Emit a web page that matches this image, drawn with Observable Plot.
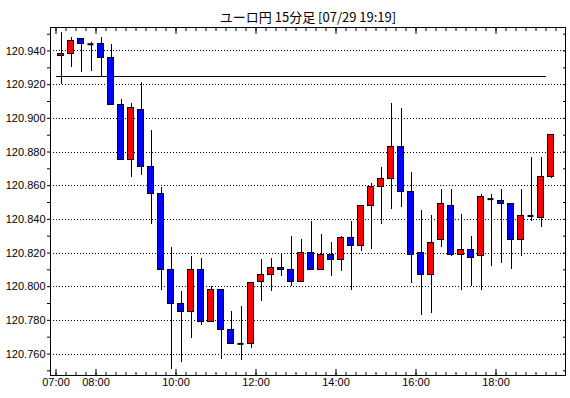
<!DOCTYPE html>
<html><head><meta charset="utf-8">
<script src="https://cdn.jsdelivr.net/npm/d3@7"></script>
<script src="https://cdn.jsdelivr.net/npm/@observablehq/plot@0.6"></script>
<style>html,body{margin:0;padding:0;background:#fff;} svg{display:block}</style>
</head><body><div id="chart"></div>
<script>
const title = "ユーロ円 15分足 [07/29 19:19]";
const times = ["07:00","07:15","07:30","07:45","08:00","08:15","08:30","08:45","09:00","09:15",
  "09:30","09:45","10:00","10:15","10:30","10:45","11:00","11:15","11:30","11:45",
  "12:00","12:15","12:30","12:45","13:00","13:15","13:30","13:45","14:00","14:15",
  "14:30","14:45","15:00","15:15","15:30","15:45","16:00","16:15","16:30","16:45",
  "17:00","17:15","17:30","17:45","18:00","18:15","18:30","18:45","19:00","19:15"];
const open = [120.937,120.938,120.947,120.944,120.944,120.936,120.908,120.875,120.905,120.871,
  120.855,120.810,120.790,120.785,120.810,120.779,120.798,120.774,120.766,120.766,
  120.803,120.807,120.811,120.810,120.803,120.820,120.810,120.819,120.816,120.829,
  120.824,120.848,120.859,120.864,120.883,120.856,120.820,120.807,120.828,120.848,
  120.819,120.822,120.818,120.852,120.851,120.849,120.828,120.842,120.841,120.865];
const high = [120.951,120.948,120.947,120.945,120.948,120.944,120.911,120.909,120.921,120.893,
  120.859,120.823,120.797,120.818,120.817,120.800,120.798,120.785,120.788,120.802,
  120.816,120.817,120.820,120.830,120.828,120.839,120.831,120.826,120.830,120.839,
  120.848,120.861,120.871,120.909,120.906,120.868,120.845,120.842,120.858,120.858,
  120.843,120.830,120.855,120.855,120.858,120.849,120.858,120.877,120.877,120.890];
const low = [120.920,120.930,120.927,120.928,120.924,120.908,120.875,120.865,120.866,120.837,
  120.798,120.751,120.755,120.769,120.777,120.779,120.757,120.766,120.756,120.763,
  120.791,120.797,120.806,120.800,120.803,120.810,120.810,120.806,120.809,120.798,
  120.821,120.822,120.837,120.846,120.847,120.802,120.783,120.784,120.823,120.818,
  120.798,120.800,120.798,120.812,120.814,120.810,120.818,120.839,120.835,120.864];
const close = [120.938,120.946,120.944,120.944,120.936,120.908,120.875,120.906,120.871,120.855,
  120.810,120.790,120.785,120.810,120.779,120.798,120.774,120.766,120.766,120.802,
  120.807,120.811,120.810,120.803,120.820,120.810,120.819,120.816,120.829,120.824,
  120.848,120.859,120.864,120.883,120.856,120.819,120.807,120.826,120.849,120.819,
  120.822,120.817,120.853,120.852,120.849,120.828,120.842,120.842,120.865,120.890];
const prevClose = 120.925;
const prevCloseSpan = ["07:00", "19:15"];
const yLabelTicks = [120.760,120.780,120.800,120.820,120.840,120.860,120.880,120.900,120.920,120.940];
const yMinorTicks = [120.750,120.760,120.770,120.780,120.790,120.800,120.810,120.820,120.830,120.840,
  120.850,120.860,120.870,120.880,120.890,120.900,120.910,120.920,120.930,120.940,120.950];
const xLabelTicks = ["07:00","08:00","10:00","12:00","14:00","16:00","18:00"];
const xDomain = ["06:51:45", "19:44:15"];
const yDomain = [120.74723, 120.95396];

const toDate = s => new Date(`2024-07-29T${s.length === 5 ? s + ":00" : s}Z`);
const MIN = 60000;
const data = times.map((t, i) => ({t: toDate(t), o: open[i], h: high[i], l: low[i], c: close[i]}));
const bodies = data.filter(d => d.o !== d.c);
const dojis = data.filter(d => d.o === d.c);
const end = d => new Date(+d.t + 15 * MIN);
const mid = d => new Date(+d.t + 7.5 * MIN);
const labelDates = xLabelTicks.map(toDate);

const chart = Plot.plot({
  width: 570, height: 398,
  marginLeft: 50, marginRight: 5, marginTop: 27, marginBottom: 23,
  style: {fontFamily: "'Liberation Sans', Arial, sans-serif", fontSize: "11px", color: "black", background: "white"},
  x: {type: "utc", domain: xDomain.map(toDate)},
  y: {domain: yDomain},
  marks: [
    Plot.ruleY(yLabelTicks, {stroke: "black", strokeDasharray: "1,2", shapeRendering: "crispEdges"}),
    Plot.ruleY([prevClose], {x1: toDate(prevCloseSpan[0]), x2: toDate(prevCloseSpan[1]), stroke: "black", shapeRendering: "crispEdges"}),
    Plot.ruleX(data, {x: mid, y1: "l", y2: "h", stroke: "black", shapeRendering: "crispEdges"}),
    Plot.rect(bodies, {x1: "t", x2: end, y1: "o", y2: "c", insetLeft: 2, insetRight: 2,
      fill: d => d.c > d.o ? "#ff0000" : "#0000ff", stroke: "black", strokeWidth: 1, shapeRendering: "crispEdges"}),
    Plot.ruleY(dojis, {y: "o", x1: "t", x2: end, insetLeft: 2, insetRight: 2, stroke: "black", strokeWidth: 2}),
    Plot.frame({stroke: "black", shapeRendering: "crispEdges"}),
    Plot.axisY(yLabelTicks, {anchor: "left", tickSize: 0, tickPadding: 5, tickFormat: d3.format(".3f"), label: null}),
    Plot.axisY(yMinorTicks, {anchor: "left", tickSize: 3, fill: "none", label: null}),
    Plot.axisY(yMinorTicks, {anchor: "right", tickSize: 3, dx: -3, fill: "none", label: null}),
    Plot.axisX(labelDates, {anchor: "bottom", tickSize: 0, tickPadding: 3, tickFormat: d3.utcFormat("%H:%M"), label: null}),
    Plot.axisX({anchor: "bottom", ticks: d3.utcMinute.every(15), tickSize: 3, dy: -3, fill: "none", label: null}),
    Plot.axisX(labelDates, {anchor: "bottom", tickSize: 6, dy: -6, fill: "none", label: null}),
    Plot.axisX({anchor: "top", ticks: d3.utcMinute.every(15), tickSize: 3, dy: 3, fill: "none", label: null}),
    Plot.axisX(labelDates, {anchor: "top", tickSize: 6, dy: 6, fill: "none", label: null}),
    Plot.text([title], {frameAnchor: "top", dy: -15, fontSize: 13, fontFamily: "'Noto Sans CJK JP', sans-serif", fill: "black"})
  ]
});
document.getElementById("chart").appendChild(chart);
</script>
</body></html>
